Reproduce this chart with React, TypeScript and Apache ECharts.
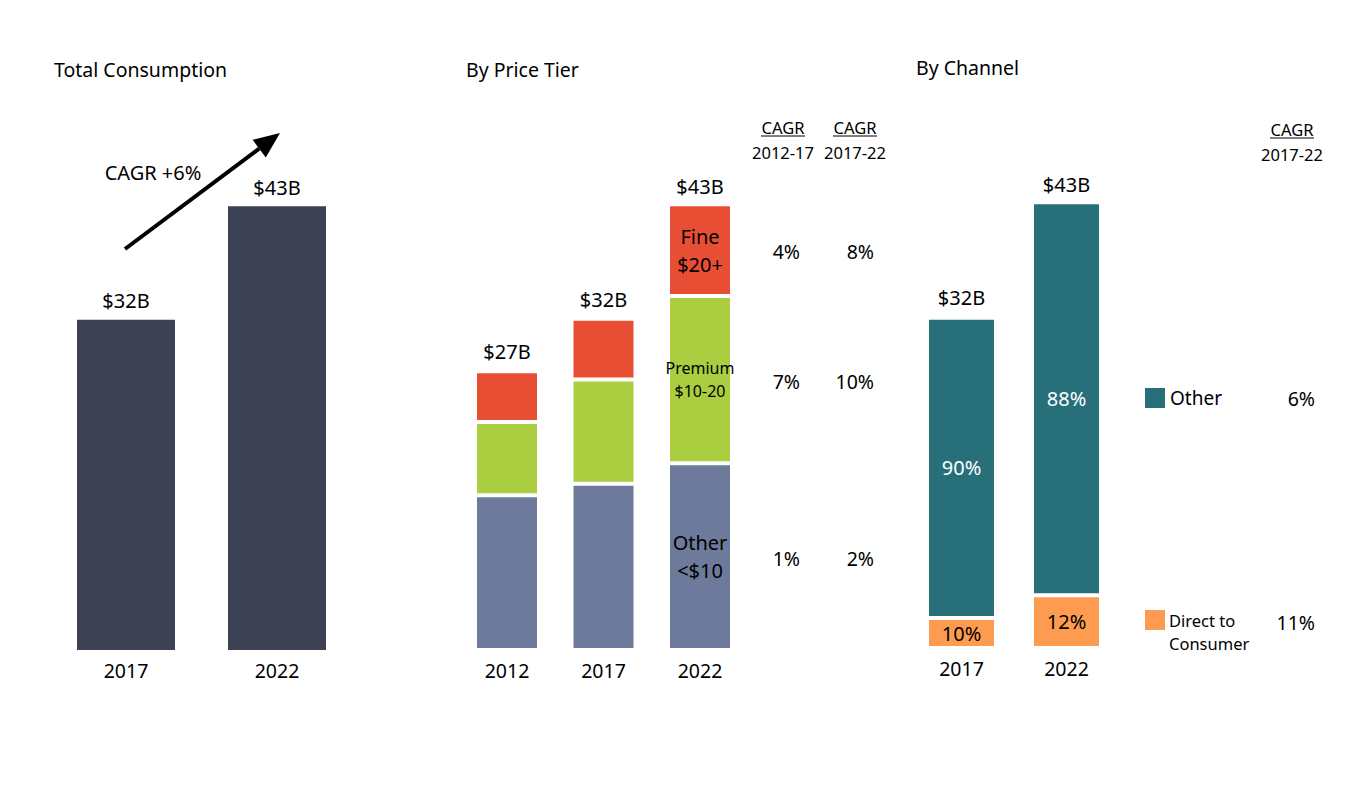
import React, { useEffect, useRef } from "react";
import * as echarts from "echarts";

const totalYears = ["2017", "2022"];
const totalValues = [32, 43];

const tierYears = ["2012", "2017", "2022"];
const tierOther = [15.0, 16.1, 18.1];
const tierPremium = [7.1, 10.1, 16.2];
const tierFine = [4.9, 5.9, 8.9];
const tierTotals = [27, 32, 43];
const tierCagrHeaders = ["2012-17", "2017-22"];
const tierCagr1217 = ["4%", "7%", "1%"]; // fine, premium, other
const tierCagr1722 = ["8%", "10%", "2%"];

const channelYears = ["2017", "2022"];
const channelDirect = [2.9, 5.1];
const channelOther = [29.1, 38.1];
const channelTotals = [32, 43];
const channelDirectShare = ["10%", "12%"];
const channelOtherShare = ["90%", "88%"];
const channelCagr = ["6%", "11%"]; // other, direct

const FONT = "'Noto Sans', sans-serif";
const C_DARK = "#3c4253";
const C_BLUE = "#6d7a9b";
const C_GREEN = "#aace3f";
const C_RED = "#e84e34";
const C_TEAL = "#27707a";
const C_ORANGE = "#fd9b50";

export default function App() {
  const ref = useRef<HTMLDivElement>(null);
  useEffect(() => {
    document.body.style.margin = "0";
    const chart = echarts.init(ref.current!, undefined, { renderer: "svg" });
    const axisLabel = { color: "#000", fontSize: 19.5, fontFamily: FONT, margin: 10 };
    const xBase = (i: number, data: string[]) => ({
      type: "category" as const,
      gridIndex: i,
      data,
      axisLine: { show: false },
      axisTick: { show: false },
      axisLabel,
    });
    const yBase = (i: number) => ({ type: "value" as const, gridIndex: i, min: 0, max: 50, show: false });
    const totLabel = (fmt: (p: any) => string) => ({
      show: true,
      position: "top" as const,
      distance: 9,
      color: "#000",
      fontSize: 20,
      fontFamily: FONT,
      formatter: fmt,
    });
    const inside = (txt: string, size: number, lh: number, color = "#000") => ({
      show: true,
      position: "inside" as const,
      formatter: txt,
      color,
      fontSize: size,
      lineHeight: lh,
      fontFamily: FONT,
    });
    const seg = { borderColor: "#fff", borderWidth: 2 };

    const text = (x: number, y: number, t: string, size: number, align = "center", extra: any = {}) => ({
      type: "text",
      x,
      y,
      style: { text: t, fontSize: size, fontFamily: FONT, fill: "#000", align, verticalAlign: "middle", ...extra },
    });
    const uline = (x1: number, x2: number, y: number) => ({
      type: "line",
      shape: { x1, y1: y, x2, y2: y },
      style: { stroke: "#000", lineWidth: 1 },
    });

    // arrow
    const tip = [280, 133];
    const start = [125, 249];
    const dx = tip[0] - start[0], dy = tip[1] - start[1];
    const L = Math.sqrt(dx * dx + dy * dy);
    const ux = dx / L, uy = dy / L;
    const headLen = 26, headHalf = 11;
    const bx = tip[0] - ux * headLen, by = tip[1] - uy * headLen;
    const nx = -uy, ny = ux;

    const graphic: any[] = [
      text(54, 69, "Total Consumption", 19.5, "left"),
      text(466, 69, "By Price Tier", 19.5, "left"),
      text(916, 67, "By Channel", 19.5, "left"),
      text(153, 172, "CAGR +6%", 20),
      {
        type: "line",
        shape: { x1: start[0], y1: start[1], x2: bx, y2: by },
        style: { stroke: "#000", lineWidth: 4 },
      },
      {
        type: "polygon",
        shape: {
          points: [
            [tip[0], tip[1]],
            [bx + nx * headHalf, by + ny * headHalf],
            [bx - nx * headHalf, by - ny * headHalf],
          ],
        },
        style: { fill: "#000" },
      },
      // price tier CAGR headers
      text(783, 127, "CAGR", 16.5),
      uline(761, 805, 136),
      text(783, 152, tierCagrHeaders[0], 16.5),
      text(855, 127, "CAGR", 16.5),
      uline(833, 877, 136),
      text(855, 152, tierCagrHeaders[1], 16.5),
      text(800, 251, tierCagr1217[0], 19.5, "right"),
      text(800, 381, tierCagr1217[1], 19.5, "right"),
      text(800, 558, tierCagr1217[2], 19.5, "right"),
      text(874, 251, tierCagr1722[0], 19.5, "right"),
      text(874, 381, tierCagr1722[1], 19.5, "right"),
      text(874, 558, tierCagr1722[2], 19.5, "right"),
      // channel
      text(1292, 129, "CAGR", 16.5),
      uline(1270, 1314, 138),
      text(1292, 154, "2017-22", 16.5),
      { type: "rect", shape: { x: 1145, y: 388, width: 20, height: 20 }, style: { fill: C_TEAL } },
      text(1170, 398, "Other", 19, "left"),
      text(1315, 398, channelCagr[0], 19.5, "right"),
      { type: "rect", shape: { x: 1145, y: 610, width: 20, height: 20 }, style: { fill: C_ORANGE } },
      text(1169, 620, "Direct to", 16.5, "left"),
      text(1169, 643, "Consumer", 16.5, "left"),
      text(1315, 622, channelCagr[1], 19.5, "right"),
    ];

    chart.setOption({
      animation: false,
      textStyle: { fontFamily: FONT },
      grid: [
        { left: 50.5, top: 134, width: 302, height: 516 },
        { left: 458.75, top: 134, width: 289.5, height: 516 },
        { left: 909, top: 132, width: 210, height: 516 },
      ],
      xAxis: [xBase(0, totalYears), xBase(1, tierYears), xBase(2, channelYears)],
      yAxis: [yBase(0), yBase(1), yBase(2)],
      series: [
        {
          type: "bar",
          xAxisIndex: 0,
          yAxisIndex: 0,
          barWidth: 98,
          data: totalValues,
          itemStyle: { color: C_DARK },
          label: totLabel((p) => "$" + p.value + "B"),
        },
        {
          type: "bar",
          name: "Other <$10",
          stack: "tier",
          xAxisIndex: 1,
          yAxisIndex: 1,
          barWidth: 64,
          itemStyle: { color: C_BLUE, ...seg },
          data: tierOther.map((v, i) =>
            i === tierOther.length - 1 ? { value: v, label: inside("Other\n<$10", 20, 28) } : v
          ),
        },
        {
          type: "bar",
          name: "Premium $10-20",
          stack: "tier",
          xAxisIndex: 1,
          yAxisIndex: 1,
          barWidth: 64,
          itemStyle: { color: C_GREEN, ...seg },
          data: tierPremium.map((v, i) =>
            i === tierPremium.length - 1 ? { value: v, label: inside("Premium\n$10-20", 16, 23) } : v
          ),
        },
        {
          type: "bar",
          name: "Fine $20+",
          stack: "tier",
          xAxisIndex: 1,
          yAxisIndex: 1,
          barWidth: 64,
          itemStyle: { color: C_RED, ...seg },
          data: tierFine.map((v, i) =>
            i === tierFine.length - 1 ? { value: v, label: inside("Fine\n$20+", 20, 28) } : v
          ),
        },
        {
          type: "bar",
          name: "tierTotal",
          xAxisIndex: 1,
          yAxisIndex: 1,
          barWidth: 64,
          barGap: "-100%",
          itemStyle: { color: "rgba(0,0,0,0)" },
          data: tierTotals,
          label: { ...totLabel((p) => "$" + p.value + "B"), distance: 10 },
          z: 1,
        },
        {
          type: "bar",
          name: "Direct to Consumer",
          stack: "ch",
          xAxisIndex: 2,
          yAxisIndex: 2,
          barWidth: 69,
          itemStyle: { color: C_ORANGE, ...seg },
          data: channelDirect,
          label: { ...inside("", 20, 24), formatter: (p: any) => channelDirectShare[p.dataIndex] },
        },
        {
          type: "bar",
          name: "Other",
          stack: "ch",
          xAxisIndex: 2,
          yAxisIndex: 2,
          barWidth: 69,
          itemStyle: { color: C_TEAL, ...seg },
          data: channelOther,
          label: { ...inside("", 20, 24, "#fff"), formatter: (p: any) => channelOtherShare[p.dataIndex] },
        },
        {
          type: "bar",
          name: "chTotal",
          xAxisIndex: 2,
          yAxisIndex: 2,
          barWidth: 69,
          barGap: "-100%",
          itemStyle: { color: "rgba(0,0,0,0)" },
          data: channelTotals,
          label: { ...totLabel((p) => "$" + p.value + "B"), distance: 10 },
          z: 1,
        },
      ],
      graphic,
    });
    return () => chart.dispose();
  }, []);
  return <div ref={ref} style={{ width: 1354, height: 803 }} />;
}
